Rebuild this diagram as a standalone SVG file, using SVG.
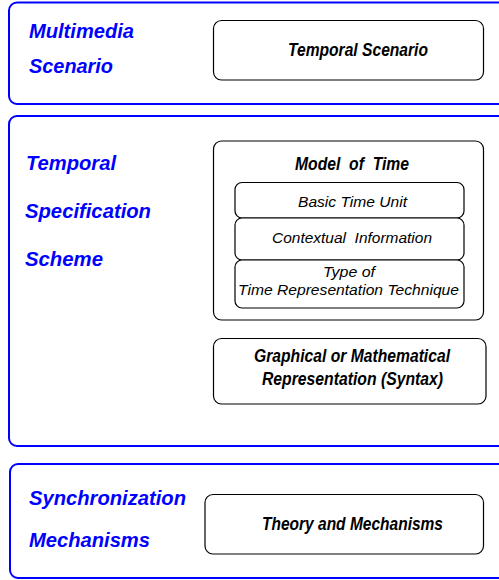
<svg xmlns="http://www.w3.org/2000/svg" width="499" height="580" viewBox="0 0 499 580">
<style>
.panel{fill:none;stroke:#0000ff;stroke-width:2}
.box{fill:#fff;stroke:#000;stroke-width:1.2}
.lbl{font-family:"Liberation Sans",Arial,sans-serif;font-weight:bold;font-style:italic;font-size:20px;fill:#0000ff}
.bt{font-family:"Liberation Sans",Arial,sans-serif;font-weight:bold;font-style:italic;font-size:17.5px;fill:#000;text-anchor:middle}
.it{font-family:"Liberation Sans",Arial,sans-serif;font-style:italic;font-size:15px;fill:#000;text-anchor:middle}
.pre{white-space:pre}
</style>
<rect width="499" height="580" fill="#fff"/>
<g id="panel-multimedia">
<rect class="panel" x="9" y="2.5" width="510" height="101.5" rx="8"/>
<text class="lbl" x="29" y="38" textLength="105" lengthAdjust="spacingAndGlyphs">Multimedia</text>
<text class="lbl" x="29" y="73" textLength="84" lengthAdjust="spacingAndGlyphs">Scenario</text>
</g>
<g id="node-temporal-scenario">
<rect class="box" x="213.5" y="20.5" width="270" height="59.5" rx="8"/>
<text class="bt" x="358" y="56" textLength="140" lengthAdjust="spacingAndGlyphs">Temporal Scenario</text>
</g>
<g id="panel-specification">
<rect class="panel" x="9" y="116" width="510" height="330" rx="8"/>
<text class="lbl" x="26" y="170" textLength="90" lengthAdjust="spacingAndGlyphs">Temporal</text>
<text class="lbl" x="25" y="217.5" textLength="126" lengthAdjust="spacingAndGlyphs">Specification</text>
<text class="lbl" x="25" y="265.5" textLength="78" lengthAdjust="spacingAndGlyphs">Scheme</text>
</g>
<g id="node-model-of-time">
<rect class="box" x="213.5" y="141" width="270" height="179" rx="8"/>
<text class="bt pre" x="352" y="169.5" textLength="114" lengthAdjust="spacingAndGlyphs">Model  of  Time</text>
</g>
<g id="node-basic-time-unit">
<rect class="box" x="235" y="182.5" width="229" height="35.5" rx="7"/>
<text class="it" x="352.5" y="207" textLength="109" lengthAdjust="spacingAndGlyphs">Basic Time Unit</text>
</g>
<g id="node-contextual-information">
<rect class="box" x="235" y="218" width="229" height="42" rx="7"/>
<text class="it pre" x="352" y="242.5" textLength="160" lengthAdjust="spacingAndGlyphs">Contextual  Information</text>
</g>
<g id="node-type-of-representation">
<rect class="box" x="235" y="260" width="229" height="48" rx="7"/>
<text class="it" x="349" y="277" textLength="52" lengthAdjust="spacingAndGlyphs">Type of</text>
<text class="it" x="348.5" y="295" textLength="221" lengthAdjust="spacingAndGlyphs">Time Representation Technique</text>
</g>
<g id="node-graphical-representation">
<rect class="box" x="213.5" y="338.5" width="272.5" height="65.5" rx="8"/>
<text class="bt" x="352" y="362" textLength="196" lengthAdjust="spacingAndGlyphs">Graphical or Mathematical</text>
<text class="bt" x="352.5" y="385" textLength="181" lengthAdjust="spacingAndGlyphs">Representation (Syntax)</text>
</g>
<g id="panel-synchronization">
<rect class="panel" x="10" y="464" width="510" height="114" rx="8"/>
<text class="lbl" x="29" y="505" textLength="157" lengthAdjust="spacingAndGlyphs">Synchronization</text>
<text class="lbl" x="29" y="547" textLength="121" lengthAdjust="spacingAndGlyphs">Mechanisms</text>
</g>
<g id="node-theory-mechanisms">
<rect class="box" x="205" y="494.5" width="278.5" height="59.5" rx="8"/>
<text class="bt" x="352.5" y="530" textLength="181" lengthAdjust="spacingAndGlyphs">Theory and Mechanisms</text>
</g>
<g id="connectors"></g>
</svg>
